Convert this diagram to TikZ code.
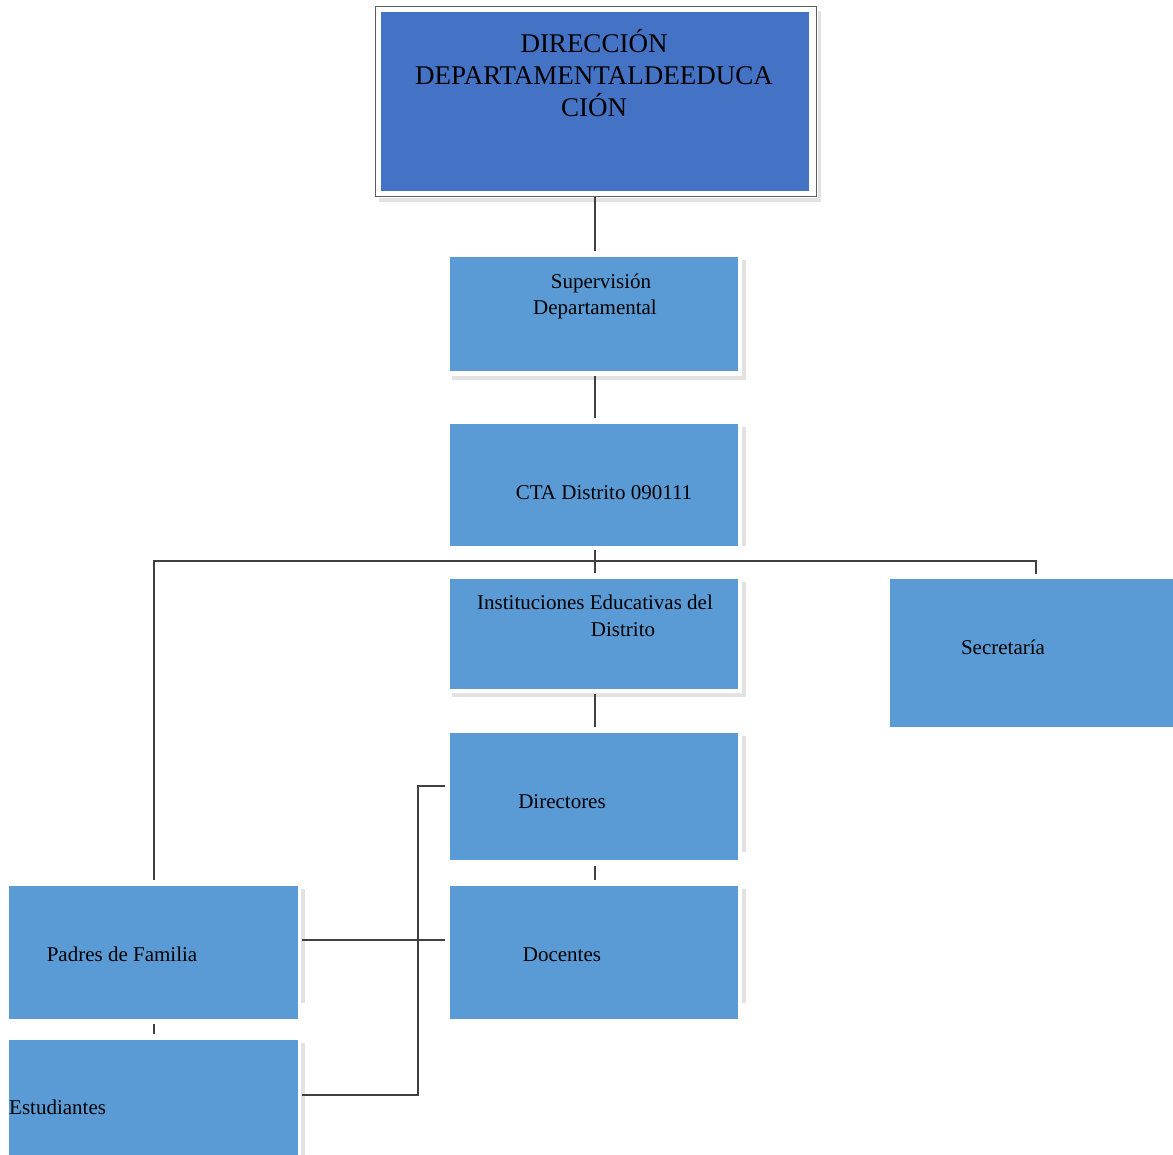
\documentclass[tikz,border=0pt]{standalone}
\usepackage{fontspec}
\setmainfont{Liberation Serif}
\definecolor{topblue}{HTML}{4472C4}
\definecolor{boxblue}{HTML}{5B9BD5}
\definecolor{shadowgray}{HTML}{E2E2E2}
\definecolor{linec}{HTML}{404040}
\begin{document}
\begin{tikzpicture}[x=1pt,y=-1pt,
  box/.style={draw=none,fill=boxblue,inner sep=0pt,outer sep=0pt},
  shadowline/.style={draw=shadowgray,line width=4pt},
  conn/.style={draw=linec,line width=2.4pt},
  lbl/.style={inner sep=0pt,anchor=base,font=\fontsize{21}{26}\selectfont},
  biglbl/.style={inner sep=0pt,anchor=base,font=\fontsize{27}{32}\selectfont}]
\useasboundingbox (0,0) rectangle (1173,1155);
\fill[white] (0,0) rectangle (1173,1155);
% top box
\fill[shadowgray] (379,198) rectangle (821,202);
\fill[shadowgray] (817.5,11) rectangle (821,202);
\draw[draw=linec!85,line width=1pt] (375,7) rectangle (816,197);
\path[fill=topblue] (381,12) rectangle (809,191);
\coordinate (topB) at (595,197.5);
\node[biglbl] (t1) at (594,53) {DIRECCIÓN};
\node[biglbl] (t2) at (594,85) {DEPARTAMENTALDEEDUCA};
\node[biglbl] (t3) at (594,117) {CIÓN};
% shadows
\draw[shadowline] (744,260) -- (744,378) -- (452,378);
\draw[shadowline] (744,427) -- (744,546);
\draw[shadowline] (744,582) -- (744,695) -- (452,695);
\draw[shadowline] (744,736) -- (744,852);
\draw[shadowline] (744,889) -- (744,1003);
\draw[shadowline] (303,889) -- (303,1003);
\draw[shadowline] (303,1043) -- (303,1155);
% boxes
\path[box] (450,257) rectangle (738,371);
\node (sup) at (594,314) [minimum width=288pt,minimum height=114pt,inner sep=0pt] {};
\node[lbl] (sup1) at (601,289) {Supervisión};
\node[lbl] (sup2) at (595,315) {Departamental};
\path[box] (450,424) rectangle (738,546);
\node (cta) at (594,485) [minimum width=288pt,minimum height=122pt,inner sep=0pt] {};
\node[lbl] (ctat) at (604,499) {CTA Distrito 090111};
\path[box] (450,579) rectangle (738,689);
\node (inst) at (594,634) [minimum width=288pt,minimum height=110pt,inner sep=0pt] {};
\node[lbl] (inst1) at (595,609) {Instituciones Educativas del};
\node[lbl] (inst2) at (623,636) {Distrito};
\path[box] (890,579) rectangle (1173,727);
\node (sec) at (1031,653) [minimum width=283pt,minimum height=148pt,inner sep=0pt] {};
\node[lbl] (sect) at (1003,654) {Secretaría};
\path[box] (450,733) rectangle (738,860);
\node (dir) at (594,796) [minimum width=288pt,minimum height=127pt,inner sep=0pt] {};
\node[lbl] (dirt) at (562,808) {Directores};
\path[box] (450,886) rectangle (738,1019);
\node (doc) at (594,952) [minimum width=288pt,minimum height=133pt,inner sep=0pt] {};
\node[lbl] (doct) at (562,961) {Docentes};
\path[box] (9,886) rectangle (298,1019);
\node (pad) at (153,952) [minimum width=289pt,minimum height=133pt,inner sep=0pt] {};
\node[lbl] (padt) at (122,961) {Padres de Familia};
\path[box] (9,1040) rectangle (298,1155);
\node (est) at (153,1097) [minimum width=289pt,minimum height=115pt,inner sep=0pt] {};
\node[lbl,anchor=base west] (estt) at (9,1114) {Estudiantes};
% connectors
\coordinate (supT) at (595,251);
\coordinate (supB) at (595,376);
\coordinate (ctaT) at (595,418);
\coordinate (ctaB) at (595,550);
\coordinate (instT) at (595,573);
\coordinate (instB) at (595,694);
\coordinate (dirT) at (595,727);
\coordinate (dirB) at (595,866);
\coordinate (docT) at (595,880);
\coordinate (padT) at (154,880);
\coordinate (padB) at (154,1024);
\coordinate (estT) at (154,1034);
\coordinate (secT) at (1036,574);
\coordinate (barL) at (154,561);
\coordinate (barR) at (1036,561);
\draw[conn] (topB) -- (supT);
\draw[conn] (supB) -- (ctaT);
\draw[conn] (ctaB) -- (instT);
\draw[conn] (padT) -- (barL) -- (barR) -- (secT);
\draw[conn] (instB) -- (dirT);
\draw[conn] (dirB) -- (docT);
\draw[conn] (padB) -- (estT);
\coordinate (brTop) at (445,786);
\coordinate (brMid) at (445,940);
\coordinate (padR) at (302,940);
\coordinate (estR) at (302,1095);
\draw[conn] (brTop) -- (418,786) -- (418,1095) -- (estR);
\draw[conn] (padR) -- (brMid);
\end{tikzpicture}
\end{document}
